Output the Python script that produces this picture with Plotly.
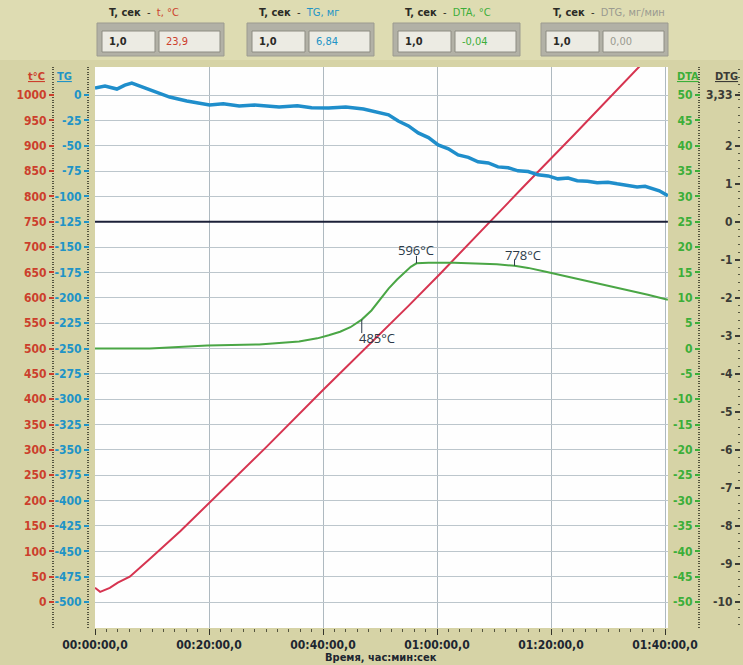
import plotly.graph_objects as go

# ---------------- data ----------------
# time in minutes
temp_t = [0, 0.9, 2.6, 4.0, 6.1, 8.0, 9.6, 15, 20, 30, 40, 48, 55, 60.6, 68.9, 75, 84.1, 96]
temp_v = [28, 20, 28, 38, 50, 68, 85, 140, 195, 305, 418, 506, 584, 648, 746, 817, 922, 1062]

tg_t = [0, 1.75, 3.84, 5.24, 6.46, 7.85, 9.6, 11.3, 13.1, 16.1, 20.1, 22.5, 25.3, 28.0, 32.3, 35.5,
        38.0, 41.0, 44.0, 47.1, 49.7, 51.5, 53.2, 55.0, 56.7, 58.5, 60.2, 62.0, 63.7, 65.5, 67.2,
        69.0, 70.7, 72.5, 74.2, 76.0, 77.7, 79.5, 81.2, 83.0, 84.6, 86.4, 88.1, 90.0, 91.6, 93.4,
        95.1, 96.5, 97.7, 99.0, 100.5]
tg_v = [6.9, 8.9, 5.9, 9.8, 11.8, 8.9, 5.9, 2.0, -2.0, -5.9, -9.8, -8.6, -10.8, -9.9, -11.8, -10.6,
        -12.6, -12.8, -11.9, -13.8, -16.7, -19.5, -25.6, -30.5, -37.4, -42.0, -49.2, -53.0, -59.1,
        -61.5, -65.9, -67.0, -70.9, -71.8, -74.8, -75.5, -78.7, -79.8, -82.7, -81.9, -84.6, -85.0,
        -86.6, -86.0, -87.6, -88.8, -90.6, -90.0, -92.5, -94.5, -99.4]

dta_t = [0, 9.6, 19.7, 28.8, 35.8, 39.0, 41.0, 43.0, 44.8, 46.8, 48.5, 50.0, 51.5, 53.0, 54.3,
         55.4, 56.4, 58.5, 63.0, 67.2, 70.5, 73.6, 76.0, 78.9, 82.5, 86.4, 90.0, 93.4, 97.0, 100.5]
dta_v = [0.0, 0.0, 0.6, 0.8, 1.4, 2.0, 2.6, 3.3, 4.2, 5.7, 7.5, 9.6, 11.8, 13.6, 15.0,
         16.1, 16.8, 16.9, 16.9, 16.8, 16.6, 16.3, 15.9, 15.2, 14.3, 13.2, 12.4, 11.6, 10.6, 9.6]

dtg_t = [0, 100.5]
dtg_v = [0.0, 0.0]

marker_t = [46.8, 56.4, 73.6]
marker_dta = [5.7, 16.8, 16.3]
marker_labels = ["485°C", "596°C", "778°C"]

x_tickvals = [0, 20, 40, 60, 80, 100]
x_ticktext = ["00:00:00,0", "00:20:00,0", "00:40:00,0", "01:00:00,0", "01:20:00,0", "01:40:00,0"]

temp_ticks = [0, 50, 100, 150, 200, 250, 300, 350, 400, 450, 500, 550, 600, 650, 700, 750, 800, 850, 900, 950, 1000]
tg_ticks = [0, -25, -50, -75, -100, -125, -150, -175, -200, -225, -250, -275, -300, -325, -350, -375, -400, -425, -450, -475, -500]
dta_ticks = [50, 45, 40, 35, 30, 25, 20, 15, 10, 5, 0, -5, -10, -15, -20, -25, -30, -35, -40, -45, -50]
dtg_ticks = [3.33, 2, 1, 0, -1, -2, -3, -4, -5, -6, -7, -8, -9, -10]
dtg_ticktext = ["3,33", "2", "1", "0", "-1", "-2", "-3", "-4", "-5", "-6", "-7", "-8", "-9", "-10"]

header_names = ["t, °C", "TG, мг", "DTA, °C", "DTG, мг/мин"]
header_time = ["1,0", "1,0", "1,0", "1,0"]
header_values = ["23,9", "6,84", "-0,04", "0,00"]

# ---------------- style ----------------
W, H = 743, 665
PX0, PX1, PY0, PY1 = 95, 668, 67, 628  # plot area in pixels
C_TEMP_LINE, C_TEMP = "#d63450", "#cc3f2c"
C_TG_LINE, C_TG = "#1f8ecb", "#2193c6"
C_DTA_LINE, C_DTA = "#4aa645", "#3cae39"
C_DTG_LINE, C_DTG = "#1c2038", "#3b3b36"
BG = "#d6d3a6"
FONT = "Liberation Sans Narrow, DejaVu Sans Condensed, Arial Narrow, sans-serif"

# temperature axis mapping: 0 °C at y=602, 1000 °C at y=95
k = (602 - 95) / 1000.0
t_top = 1000 + (95 - PY0) / k
t_bot = -(PY1 - 602) / k
temp_range = [t_bot, t_top]
tg_range = [v / 2 - 500 for v in temp_range]
dta_range = [v / 10 - 50 for v in temp_range]
dtg_range = [v * 13.33 / 1000 - 10 for v in temp_range]


def fx(px):
    return px / W


def fy(py):
    return 1 - py / H


fig = go.Figure()
fig.add_trace(go.Scatter(x=dtg_t, y=dtg_v, yaxis="y4", mode="lines",
                         line=dict(color=C_DTG_LINE, width=2), hoverinfo="skip"))
fig.add_trace(go.Scatter(x=tg_t, y=tg_v, yaxis="y2", mode="lines",
                         line=dict(color=C_TG_LINE, width=3.5), hoverinfo="skip"))
fig.add_trace(go.Scatter(x=dta_t, y=dta_v, yaxis="y3", mode="lines",
                         line=dict(color=C_DTA_LINE, width=2), hoverinfo="skip"))
fig.add_trace(go.Scatter(x=temp_t, y=temp_v, yaxis="y", mode="lines",
                         line=dict(color=C_TEMP_LINE, width=2), hoverinfo="skip"))

dom_x = [fx(PX0), fx(PX1)]
dom_y = [fy(PY1), fy(PY0)]


def yax(rng, tickvals, ticktext, color, pos, minor_dtick, minor_tick0, grid=False, overlay=True):
    d = dict(range=rng, domain=dom_y, tickmode="array", tickvals=tickvals, ticktext=ticktext,
             tickfont=dict(family=FONT, size=12, color=color, weight="bold"),
             ticks="outside", ticklen=5, tickwidth=2, tickcolor=color,
             showline=False, zeroline=False, showgrid=grid, automargin=False,
             anchor="free", position=pos, side="left",
             minor=dict(tickmode="linear", tick0=minor_tick0, dtick=minor_dtick, ticks="outside",
                        ticklen=2, tickwidth=1, tickcolor="#55553f", showgrid=False))
    if grid:
        d["gridcolor"] = "#bcc6cc"
        d["gridwidth"] = 1
    if overlay:
        d["overlaying"] = "y"
    return d


layout = dict(
    width=W, height=H, margin=dict(l=0, r=0, t=0, b=0),
    paper_bgcolor=BG, plot_bgcolor="#fefefe", showlegend=False,
    xaxis=dict(domain=dom_x, range=[0, (PX1 - PX0) / 5.7], tickmode="array",
               tickvals=x_tickvals, ticktext=x_ticktext, showgrid=True, gridcolor="#aeb9c0",
               gridwidth=1, zeroline=False, showline=False, automargin=False,
               ticks="outside", ticklen=6, tickwidth=1, tickcolor="#33332a",
               tickfont=dict(family=FONT, size=12, color="#1d2630", weight="bold"),
               minor=dict(tickmode="linear", tick0=0, dtick=2, ticks="outside", ticklen=3,
                          tickwidth=1, tickcolor="#55553f", showgrid=False)),
    yaxis=yax(temp_range, temp_ticks, [str(v) for v in temp_ticks], C_TEMP, fx(54), 5, 0, grid=True, overlay=False),
    yaxis2=yax(tg_range, tg_ticks, [str(v) for v in tg_ticks], C_TG, fx(89), 2.5, 0),
    yaxis3=yax(dta_range, dta_ticks, [str(v) for v in dta_ticks], C_DTA, fx(700), 0.5, 0),
    yaxis4=yax(dtg_range, dtg_ticks, dtg_ticktext, C_DTG, fx(740), 0.2, 0),
)
fig.update_layout(**layout)

annotations = []
# axis titles
for txt, px, col in [("t°C", 36, C_TEMP), ("TG", 64, C_TG), ("DTA", 688, C_DTA), ("DTG", 726, C_DTG)]:
    annotations.append(dict(text="<u>%s</u>" % txt, x=fx(px), y=fy(76), xref="paper", yref="paper",
                            showarrow=False, xanchor="center", yanchor="middle",
                            font=dict(family=FONT, size=11, color=col, weight="bold")))
# x-axis title
annotations.append(dict(text="Время, час:мин:сек", x=fx(381), y=fy(657), xref="paper", yref="paper",
                        showarrow=False, xanchor="center", yanchor="middle",
                        font=dict(family=FONT, size=11, color="#1d2630", weight="bold")))

# peak markers on the DTA curve
arrow_ay = [15, -9, -8]
text_shift = [(15, -18), (0, 13), (8, 11)]
for t, v, lab, ay, (xs, ys) in zip(marker_t, marker_dta, marker_labels, arrow_ay, text_shift):
    annotations.append(dict(x=t, y=v, xref="x", yref="y3", text="", showarrow=True, arrowhead=0,
                            arrowwidth=1, arrowcolor="#2b3a48", ax=0, ay=ay, standoff=0))
    annotations.append(dict(x=t, y=v, xref="x", yref="y3", text=lab, showarrow=False,
                            xshift=xs, yshift=ys, xanchor="center", yanchor="middle",
                            font=dict(family="Open Sans, sans-serif", size=13, color="#2b3a48")))

# header panel
shapes = [dict(type="rect", xref="paper", yref="paper", x0=0, x1=1, y0=fy(60), y1=1,
               fillcolor="#dedcb2", line=dict(width=0), layer="below")]
group_x = [97, 247, 393, 541]
name_colors = [C_TEMP, C_TG, C_DTA, "#9a9a90"]
value_colors = [C_TEMP, C_TG, C_DTA, "#9a9a90"]
for gx, nm, tv, vv, nc, vc in zip(group_x, header_names, header_time, header_values, name_colors, value_colors):
    shapes.append(dict(type="rect", xref="paper", yref="paper", x0=fx(gx), x1=fx(gx + 127),
                       y0=fy(56), y1=fy(23), fillcolor="#b2b1a6", line=dict(color="#9c9b90", width=1)))
    shapes.append(dict(type="rect", xref="paper", yref="paper", x0=fx(gx + 5), x1=fx(gx + 58),
                       y0=fy(52), y1=fy(31), fillcolor="#ecebe3", line=dict(color="#8d8c82", width=1)))
    shapes.append(dict(type="rect", xref="paper", yref="paper", x0=fx(gx + 62), x1=fx(gx + 123),
                       y0=fy(52), y1=fy(31), fillcolor="#ecebe3", line=dict(color="#8d8c82", width=1)))
    annotations.append(dict(text="<b>T, сек</b>  -  <span style='color:%s'>%s</span>" % (nc, nm),
                            x=fx(gx + 10), y=fy(13), xref="paper", yref="paper", showarrow=False,
                            xanchor="left", yanchor="middle",
                            font=dict(family=FONT, size=11, color="#2a2a26")))
    annotations.append(dict(text="<b>%s</b>" % tv, x=fx(gx + 10), y=fy(42), xref="paper", yref="paper",
                            showarrow=False, xanchor="left", yanchor="middle",
                            font=dict(family=FONT, size=11, color="#2a2a26")))
    annotations.append(dict(text=vv, x=fx(gx + 67), y=fy(42), xref="paper", yref="paper",
                            showarrow=False, xanchor="left", yanchor="middle",
                            font=dict(family=FONT, size=11, color=vc)))

fig.update_layout(annotations=annotations, shapes=shapes)
fig.write_html("out.html", config={"displayModeBar": False},
               post_script="document.body.style.margin='0';document.body.style.overflow='hidden';")
